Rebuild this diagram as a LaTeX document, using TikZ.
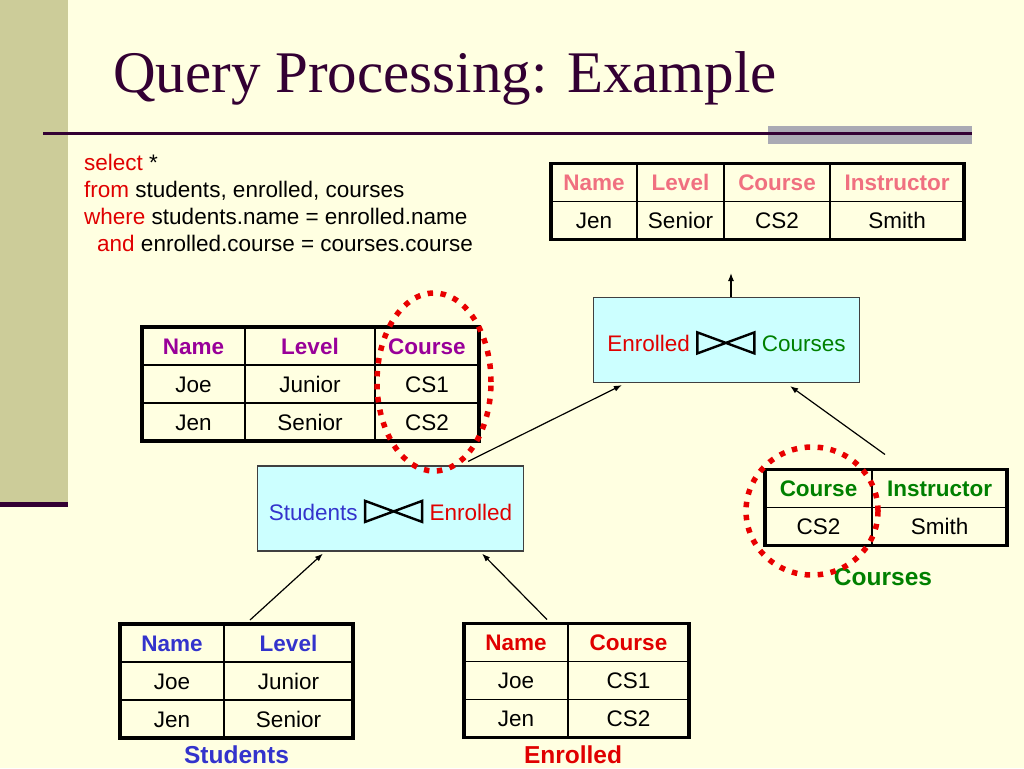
\documentclass[tikz,border=0pt]{standalone}
\usepackage{fontspec}
\setmainfont{Liberation Sans}
\newfontfamily\titlefont{Liberation Serif}
\usepackage{xcolor}
\usetikzlibrary{matrix,calc,arrows.meta}

\definecolor{slidebg}{RGB}{255,255,225}
\definecolor{barc}{RGB}{204,204,153}
\definecolor{titlec}{RGB}{51,0,51}
\definecolor{rulegray}{RGB}{170,170,180}
\definecolor{joinfill}{RGB}{204,255,255}
\definecolor{stuc}{RGB}{51,51,204}
\definecolor{enrc}{RGB}{224,0,0}
\definecolor{crsc}{RGB}{0,128,0}
\definecolor{purplec}{RGB}{153,0,153}
\definecolor{salmonc}{RGB}{240,112,128}
\definecolor{ringred}{RGB}{232,0,0}

\newcommand{\cellsize}{\fontsize{22.5}{27}\selectfont}
\newcommand{\joinsym}{\tikz[baseline=1.8pt]{\draw[black, line width=2.4pt, line join=miter] (0pt,0pt) -- (57pt,21pt) -- (57pt,0pt) -- (0pt,21pt) -- cycle;}}

\tikzset{
  tbl/.style={matrix of nodes, draw, line width=3.2pt, inner sep=0pt, outer sep=0pt,
    column sep=0pt, row sep=0pt,
    nodes={minimum height=38pt, text height=16.5pt, text depth=0.5pt,
      inner sep=0pt, outer sep=0pt, anchor=center, font=\cellsize}},
  headrow/.style={row 1/.style={nodes={font=\cellsize\bfseries, text=#1}}},
  cellline/.style={line width=1.6pt},
  joinbox/.style={draw=black!75, line width=1.2pt, fill=joinfill,
    text height=25pt, text depth=1.8pt,
    minimum width=266pt, minimum height=85pt, font=\cellsize},
  qline/.style={anchor=base west, inner sep=0pt, font=\cellsize},
  lbl/.style={font=\fontsize{24.5}{29}\selectfont\bfseries, inner sep=0pt},
  arr/.style={-{Latex[length=8pt,width=6pt]}, line width=1.2pt},
  ring/.style={draw=ringred, line width=5.5pt, dash pattern=on 5.5pt off 7.5pt}
}

\begin{document}
\begin{tikzpicture}[x=1pt,y=-1pt]
% frame
\fill[slidebg] (0,0) rectangle (1024,768);
\useasboundingbox (0,0) rectangle (1024,768);
\fill[barc] (0,0) rectangle (68,502);
\fill[titlec] (0,502) rectangle (68,507);
\fill[rulegray] (768,126) rectangle (972,144);
\draw[titlec, line width=3pt] (43,133) -- (972,133);
\node[anchor=base west, inner sep=0pt, text=titlec, font=\titlefont\fontsize{59}{71}\selectfont] (title) at (113,92) {Query Processing: Example};
% query
\node[qline] (q1) at (84,170) {\textcolor{enrc}{select} *};
\node[qline] (q2) at (84,197) {\textcolor{enrc}{from} students, enrolled, courses};
\node[qline] (q3) at (84,224) {\textcolor{enrc}{where} students.name = enrolled.name};
\node[qline] (q4) at (97,251) {\textcolor{enrc}{and} enrolled.course = courses.course};
% tables
\matrix[tbl, headrow=salmonc,
  column 1/.style={nodes={minimum width=86pt}}, column 2/.style={nodes={minimum width=87pt}},
  column 3/.style={nodes={minimum width=106pt}}, column 4/.style={nodes={minimum width=134pt}}]
  (res) at (757.5,201.5) {
  Name & Level & Course & Instructor \\
  Jen & Senior & CS2 & Smith \\
};
\draw[cellline] (res-1-1.south west) -- (res-1-4.south east)
  (res-1-2.north west) -- (res-2-2.south west)
  (res-1-3.north west) -- (res-2-3.south west)
  (res-1-4.north west) -- (res-2-4.south west);
\matrix[tbl, headrow=purplec,
  column 1/.style={nodes={minimum width=103pt}}, column 2/.style={nodes={minimum width=130pt}},
  column 3/.style={nodes={minimum width=104pt}}]
  (mid) at (310.5,384) {
  Name & Level & Course \\
  Joe & Junior & CS1 \\
  Jen & Senior & CS2 \\
};
\draw[cellline] (mid-1-1.south west) -- (mid-1-3.south east)
  (mid-2-1.south west) -- (mid-2-3.south east)
  (mid-1-2.north west) -- (mid-3-2.south west)
  (mid-1-3.north west) -- (mid-3-3.south west);
\matrix[tbl, headrow=crsc,
  column 1/.style={nodes={minimum width=107pt}}, column 2/.style={nodes={minimum width=135pt}}]
  (crs) at (886,507.5) {
  Course & Instructor \\
  CS2 & Smith \\
};
\draw[cellline] (crs-1-1.south west) -- (crs-1-2.south east)
  (crs-1-2.north west) -- (crs-2-2.south west);
\matrix[tbl, headrow=stuc,
  column 1/.style={nodes={minimum width=104pt}}, column 2/.style={nodes={minimum width=129pt}}]
  (stu) at (236.5,681) {
  Name & Level \\
  Joe & Junior \\
  Jen & Senior \\
};
\draw[cellline] (stu-1-1.south west) -- (stu-1-2.south east)
  (stu-2-1.south west) -- (stu-2-2.south east)
  (stu-1-2.north west) -- (stu-3-2.south west);
\matrix[tbl, headrow=enrc,
  column 1/.style={nodes={minimum width=104pt}}, column 2/.style={nodes={minimum width=121pt}}]
  (enr) at (576.5,680.5) {
  Name & Course \\
  Joe & CS1 \\
  Jen & CS2 \\
};
\draw[cellline] (enr-1-1.south west) -- (enr-1-2.south east)
  (enr-2-1.south west) -- (enr-2-2.south east)
  (enr-1-2.north west) -- (enr-3-2.south west);
\node[lbl, text=stuc] (stuName) at (236.5,755) {Students};
\node[lbl, text=enrc] (enrName) at (573,755) {Enrolled};
\node[lbl, text=crsc] (crsName) at (883,577) {Courses};
% joins
\node[joinbox] (j1) at (390.5,508.5) {\textcolor{stuc}{Students} \joinsym{} \textcolor{enrc}{Enrolled}};
\node[joinbox] (j2) at (726.5,340) {\textcolor{enrc}{Enrolled} \joinsym{} \textcolor{crsc}{Courses}};
% arrows
\coordinate (resIn) at (731,273);
\draw[arr] ($(stu.north)+(13.5,-4)$) -- ($(j1.south west)+(66,2)$);
\draw[arr] ($(enr.north)+(-29.5,-4)$) -- ($(j1.south east)+(-42,2)$);
\draw[arr] ($(j1.north east)+(-56,-4)$) -- ($(j2.south west)+(29,2)$);
\draw[arr] ($(crs.north)+(-1,-15)$) -- ($(j2.south east)+(-70,3)$);
\draw[arr] ($(j2.north)+(4.5,0)$) -- (resIn);
% marks
\draw[ring] (434,382) ellipse [x radius=57pt, y radius=89pt];
\draw[ring] (812,511) ellipse [x radius=66pt, y radius=64pt];
\end{tikzpicture}
\end{document}
